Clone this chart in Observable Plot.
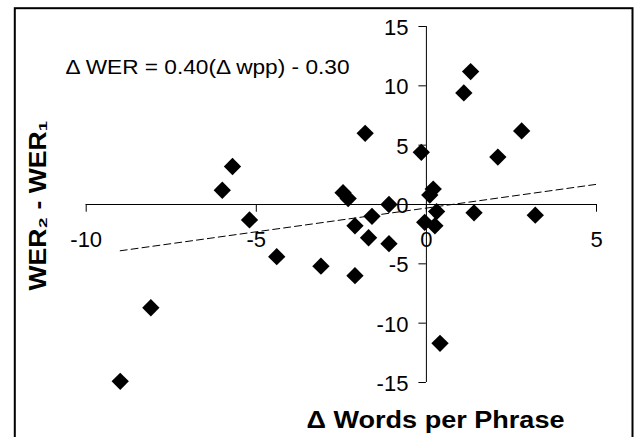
<!DOCTYPE html>
<html>
<head>
<meta charset="utf-8">
<script src="https://cdn.jsdelivr.net/npm/d3@7"></script>
<script src="https://cdn.jsdelivr.net/npm/@observablehq/plot@0.6"></script>
<style>
  html, body { margin: 0; padding: 0; background: #fff; }
  svg { display: block; }
</style>
</head>
<body>
<div id="chart"></div>
<script>
// Δ words per phrase (x) and WER2 - WER1 (y)
const deltaWpp = [-9.0, -8.1, -6.0, -5.7, -5.2, -4.4, -3.1, -2.45, -2.3, -2.1, -2.1, -1.8, -1.7, -1.6, -1.1, -1.1, -0.15, -0.05, 0.1, 0.2, 0.3, 0.25, 0.4, 1.1, 1.3, 1.4, 2.1, 2.8, 3.2];
const deltaWer = [-14.9, -8.7, 1.2, 3.2, -1.3, -4.4, -5.2, 1.0, 0.5, -1.8, -6.0, 6.0, -2.8, -1.0, 0.0, -3.3, 4.4, -1.5, 0.8, 1.3, -0.6, -1.8, -11.7, 9.4, 11.2, -0.7, 4.0, 6.2, -0.9];

// trend line endpoints (dashed)
const trendX = [-9.0, 5.0];
const trendY = [-3.9, 1.7];

const xTicks = [-10, -5, 0, 5];
const xTickLabels = ["-10", "-5", "0", "5"];
const yTicks = [-15, -10, -5, 0, 5, 10, 15];
const yTickLabels = ["-15", "-10", "-5", "0", "5", "10", "15"];

const xTitle = "Δ Words per Phrase";
const yTitle = "WER₂ - WER₁";
const equation = "Δ WER = 0.40(Δ wpp) - 0.30";

const points = deltaWpp.map((x, i) => ({x, y: deltaWer[i]}));
const trend = trendX.map((x, i) => ({x, y: trendY[i]}));
const xt = xTicks.map((v, i) => ({v, label: xTickLabels[i]}));
const yt = yTicks.map((v, i) => ({v, label: yTickLabels[i]}));

const font = "'Liberation Sans', Arial, Helvetica, sans-serif";

const chart = Plot.plot({
  width: 635,
  height: 437,
  marginTop: 0, marginRight: 0, marginBottom: 0, marginLeft: 0,
  x: {domain: [-10, 5], range: [85.7, 596], axis: null},
  y: {domain: [-15, 15], range: [382, 26], axis: null},
  style: {fontFamily: font, background: "#fff", color: "#000"},
  marks: [
    Plot.frame({stroke: "#000", strokeWidth: 2, insetLeft: 14.3, insetTop: 7.7, insetRight: 3, insetBottom: -4}),
    // axes crossing at origin
    Plot.ruleY([0], {x1: -10, x2: 5, stroke: "#000", strokeWidth: 1}),
    Plot.ruleX([0], {y1: -15, y2: 15, stroke: "#000", strokeWidth: 1}),
    Plot.ruleX(xt, {x: "v", y1: 0, y2: -0.65, stroke: "#000", strokeWidth: 1}),
    Plot.ruleY(yt, {y: "v", x1: -0.22, x2: 0, stroke: "#000", strokeWidth: 1}),
    Plot.text(xt, {x: "v", y: 0, dy: 35, text: "label", fontSize: 22, fill: "#000"}),
    Plot.text(yt, {x: 0, y: "v", dx: -18, dy: 1.5, text: "label", textAnchor: "end", fontSize: 22, fill: "#000"}),
    // trend line
    Plot.line(trend, {x: "x", y: "y", stroke: "#000", strokeWidth: 1, strokeDasharray: "7,4"}),
    // points
    Plot.dot(points, {x: "x", y: "y", symbol: "diamond2", r: 7.8, fill: "#000", stroke: null}),
    // labels
    Plot.text([equation], {frameAnchor: "top-left", dx: 65, dy: 67, text: d => d, textAnchor: "start", lineAnchor: "middle", fontSize: 20, fill: "#000"}),
    Plot.text([xTitle], {frameAnchor: "bottom", dx: 117.5, dy: -17, text: d => d, textAnchor: "middle", lineAnchor: "middle", fontSize: 23, fontWeight: "bold", fill: "#000"}),
    Plot.text([yTitle], {frameAnchor: "left", dx: 38.5, dy: -13.5, rotate: -90, text: d => d, textAnchor: "middle", lineAnchor: "middle", fontSize: 23, fontWeight: "bold", fill: "#000"})
  ]
});
document.getElementById("chart").appendChild(chart);

// stretch the long labels to the widths they have in the reference
const widths = new Map([[equation, 284], [xTitle, 258], [yTitle, 170]]);
chart.querySelectorAll("text").forEach(t => {
  const w = widths.get(t.textContent);
  if (w) {
    t.setAttribute("textLength", w);
    t.setAttribute("lengthAdjust", "spacingAndGlyphs");
  }
});
</script>
</body>
</html>
